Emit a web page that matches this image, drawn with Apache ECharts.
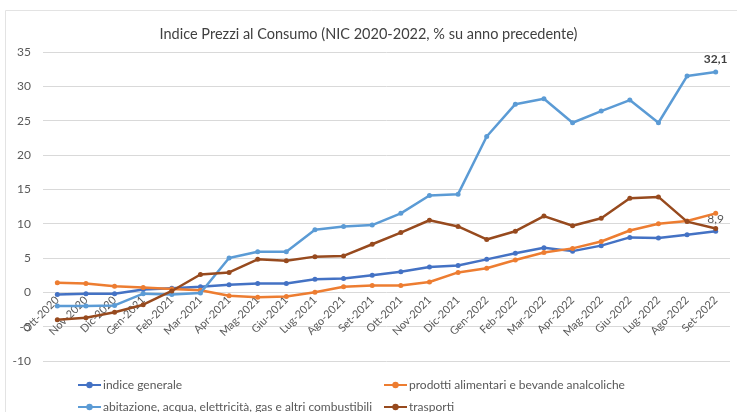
<!DOCTYPE html>
<html>
<head>
<meta charset="utf-8">
<script src="https://cdn.jsdelivr.net/npm/echarts@6/dist/echarts.min.js"></script>
<style>
  html, body { margin: 0; padding: 0; background: #ffffff; }
  #chart { width: 737px; height: 412px; }
</style>
</head>
<body>
<div id="chart"></div>
<script>
// Mesi (asse delle categorie)
const mesi = ['Ott-2020','Nov-2020','Dic-2020','Gen-2021','Feb-2021','Mar-2021','Apr-2021','Mag-2021',
  'Giu-2021','Lug-2021','Ago-2021','Set-2021','Ott-2021','Nov-2021','Dic-2021','Gen-2022',
  'Feb-2022','Mar-2022','Apr-2022','Mag-2022','Giu-2022','Lug-2022','Ago-2022','Set-2022'];

// Variazioni tendenziali (%)
const indiceGenerale = [-0.3,-0.2,-0.2,0.4,0.6,0.8,1.1,1.3,1.3,1.9,2.0,2.5,3.0,3.7,3.9,4.8,5.7,6.5,6.0,6.8,8.0,7.9,8.4,8.9];
const prodottiAlimentari = [1.4,1.3,0.9,0.7,0.5,0.3,-0.5,-0.7,-0.6,0.0,0.8,1.0,1.0,1.5,2.9,3.5,4.7,5.8,6.4,7.4,9.0,10.0,10.4,11.5];
const abitazione = [-2.0,-2.0,-1.9,-0.2,-0.3,-0.1,5.0,5.9,5.9,9.1,9.6,9.8,11.5,14.1,14.3,22.7,27.4,28.2,24.7,26.4,28.0,24.7,31.5,32.1];
const trasporti = [-4.0,-3.7,-2.9,-1.8,0.2,2.6,2.9,4.8,4.6,5.2,5.3,7.0,8.7,10.5,9.6,7.7,8.9,11.1,9.7,10.8,13.7,13.9,10.3,9.3];

// Scala verticale
const Y_MIN = -10, Y_MAX = 35, Y_STEP = 5;

const nomi = [
  'indice generale',
  'prodotti alimentari e bevande analcoliche',
  'abitazione, acqua, elettricità, gas e altri combustibili',
  'trasporti'
];
const colori = ['#4472c4', '#ed7d31', '#5b9bd5', '#974a1e'];

const FONT = 'Lato';
const TEXT = '#595959';
const ultimo = mesi.length - 1;

const GRID = { left: 43, right: 7, top: 52, bottom: 51 };
const altezzaGrid = 412 - GRID.top - GRID.bottom;
// Sposta le etichette dei mesi sulla linea dello zero
const offsetZero = -((0 - Y_MIN) / (Y_MAX - Y_MIN)) * altezzaGrid;

// Etichetta solo sull'ultimo punto, con virgola decimale
function etichettaFinale(opts) {
  return Object.assign({
    show: true,
    position: 'top',
    distance: 4,
    fontFamily: FONT,
    fontSize: 12,
    color: TEXT,
    formatter: p => p.dataIndex === ultimo ? String(p.value).replace('.', ',') : ''
  }, opts || {});
}

function serie(i, dati, label) {
  return {
    name: nomi[i],
    type: 'line',
    data: dati,
    symbol: 'circle',
    symbolSize: 5,
    showAllSymbol: true,
    lineStyle: { width: 2.5, color: colori[i] },
    itemStyle: { color: colori[i] },
    label: label || { show: false },
    emphasis: { disabled: true },
    z: 2 + i
  };
}

function legenda(nome, left, top) {
  return {
    data: [nome], left: left, top: top,
    itemWidth: 23, itemHeight: 8, itemGap: 0,
    textStyle: { fontFamily: FONT, fontSize: 12, color: TEXT, padding: [0, 0, 0, -3] },
    selectedMode: false
  };
}

const chart = echarts.init(document.getElementById('chart'), null, { renderer: 'canvas' });
chart.setOption({
  animation: false,
  backgroundColor: '#ffffff',
  color: colori,
  title: {
    text: 'Indice Prezzi al Consumo (NIC 2020-2022, % su anno precedente)',
    left: 'center',
    top: 22,
    textStyle: { fontFamily: FONT, fontSize: 14.5, fontWeight: 'normal', color: '#404040' }
  },
  graphic: [{
    type: 'rect',
    shape: { x: 5.5, y: 10.5, width: 760, height: 420 },
    style: { fill: 'none', stroke: '#e3e3e3', lineWidth: 1 },
    silent: true, z: -1
  }],
  legend: [
    legenda(nomi[0], 72, 374),
    legenda(nomi[1], 378, 374),
    legenda(nomi[2], 72, 396),
    legenda(nomi[3], 378, 396)
  ],
  grid: Object.assign({ containLabel: false }, GRID),
  xAxis: {
    type: 'category',
    data: mesi,
    boundaryGap: true,
    offset: offsetZero,
    axisLine: { show: false, onZero: false },
    axisTick: { show: false },
    axisLabel: {
      interval: 0, rotate: 45, margin: 6,
      fontFamily: FONT, fontSize: 11, color: TEXT
    },
    splitLine: { show: false }
  },
  yAxis: {
    type: 'value',
    min: Y_MIN, max: Y_MAX, interval: Y_STEP,
    axisLine: { show: false },
    axisTick: { show: false },
    axisLabel: { fontFamily: FONT, fontSize: 12, color: TEXT, margin: 12 },
    splitLine: { lineStyle: { color: '#d9d9d9', width: 1 } }
  },
  series: [
    serie(0, indiceGenerale, etichettaFinale({ color: '#595959' })),
    serie(1, prodottiAlimentari),
    serie(2, abitazione, etichettaFinale({ color: '#404040', fontWeight: 'bold' })),
    serie(3, trasporti)
  ]
});
</script>
</body>
</html>
